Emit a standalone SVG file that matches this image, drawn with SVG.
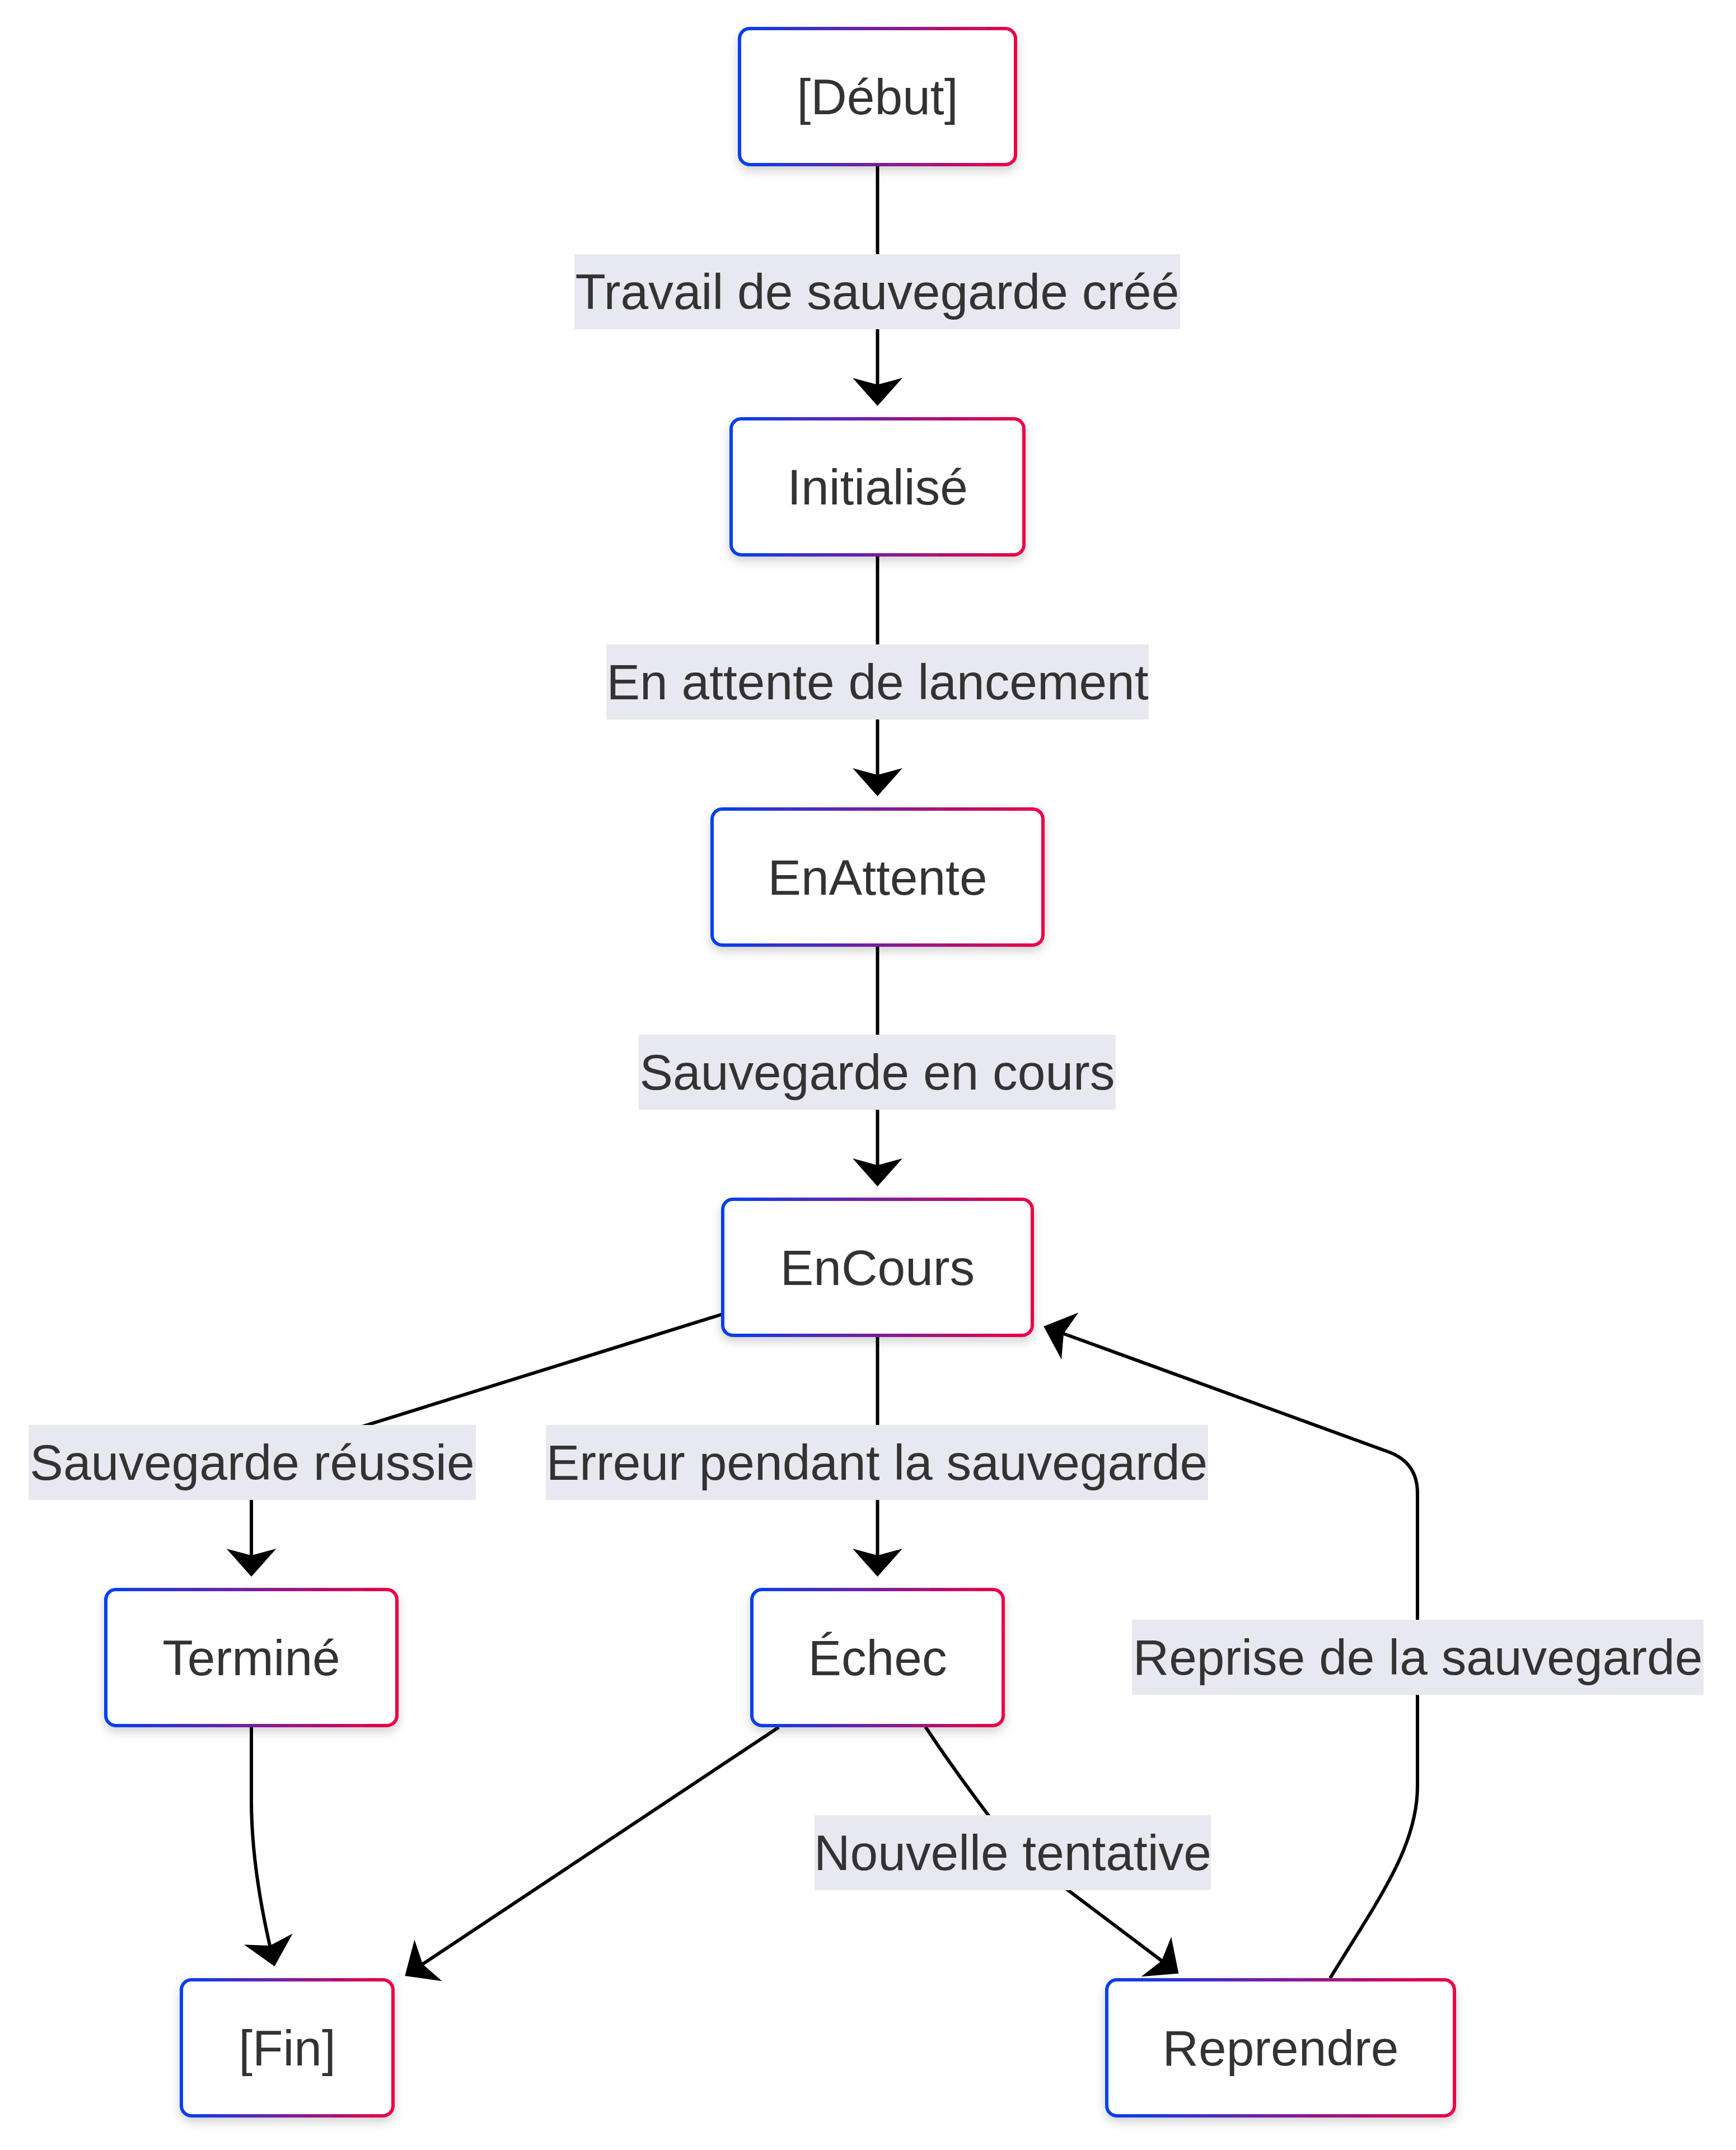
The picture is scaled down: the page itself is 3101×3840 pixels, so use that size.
<svg xmlns="http://www.w3.org/2000/svg" width="3101" height="3840" viewBox="0 0 3101 3840">
<style>
.node rect{fill:#ffffff;stroke:url(#grad);stroke-width:6;filter:url(#shadow)}
.node text,.label text{font-family:"Liberation Sans",Arial,sans-serif;font-size:89.3px;fill:#333333;text-anchor:middle}
.label rect{fill:#e8e8f0}
.edge{fill:none;stroke:#000000;stroke-width:6;marker-end:url(#arrow)}
</style>
<defs>
<linearGradient id="grad" x1="0" y1="0" x2="1" y2="0">
<stop offset="0" stop-color="#0040ee"/>
<stop offset="0.5" stop-color="#7a1e9c"/>
<stop offset="1" stop-color="#ee0044"/>
</linearGradient>
<filter id="shadow" x="-20%" y="-20%" width="140%" height="160%">
<feDropShadow dx="0" dy="8" stdDeviation="9" flood-color="#000000" flood-opacity="0.18"/>
</filter>
<marker id="arrow" viewBox="0 0 50 89" refX="12" refY="44.5" markerWidth="50" markerHeight="89" markerUnits="userSpaceOnUse" orient="auto">
<path d="M0,0 L50,44.5 L0,89 L12,44.5 Z" fill="#000000"/>
</marker>
</defs>
<rect width="3101" height="3840" fill="#ffffff"/>
<g id="connectors">
<path class="edge" d="M1567.5,297 L1567.5,687"/>
<path class="edge" d="M1567.5,994 L1567.5,1384"/>
<path class="edge" d="M1567.5,1691 L1567.5,2081"/>
<path class="edge" d="M1567.5,2388 L1567.5,2778"/>
<path class="edge" d="M1291,2347 L656,2545 Q449,2605 449,2650 L449,2778"/>
<path class="edge" d="M449,3085 L449,3215 Q449,3330 482,3475"/>
<path class="edge" d="M1391,3085 L755,3508"/>
<path class="edge" d="M1653,3084 Q1700,3155 1764,3240 Q1800,3290 1860,3340 L2075,3502"/>
<path class="edge" d="M2376,3533 C2460,3395 2532,3300 2532,3190 L2532,2667 Q2532,2612 2480,2593 L1900,2382"/>
</g>
<g id="edge-labels">
<g class="label" id="label-cree"><rect x="1026" y="454" width="1082" height="134"/><text x="1567" y="552">Travail de sauvegarde créé</text></g>
<g class="label" id="label-attente"><rect x="1083" y="1151" width="969" height="134"/><text x="1567.5" y="1249">En attente de lancement</text></g>
<g class="label" id="label-cours"><rect x="1141" y="1848" width="852" height="134"/><text x="1567" y="1946">Sauvegarde en cours</text></g>
<g class="label" id="label-reussie"><rect x="51" y="2545" width="799" height="134"/><text x="450.5" y="2643">Sauvegarde réussie</text></g>
<g class="label" id="label-erreur"><rect x="975" y="2545" width="1183" height="134"/><text x="1566.5" y="2643">Erreur pendant la sauvegarde</text></g>
<g class="label" id="label-reprise"><rect x="2022" y="2893" width="1021" height="134"/><text x="2532.5" y="2991">Reprise de la sauvegarde</text></g>
<g class="label" id="label-tentative"><rect x="1455" y="3242" width="708" height="134"/><text x="1809" y="3340">Nouvelle tentative</text></g>
</g>
<g class="node" id="node-debut"><rect x="1321" y="51" width="493" height="243" rx="18"/><text x="1567.5" y="204">[Début]</text></g>
<g class="node" id="node-initialise"><rect x="1306" y="748" width="523" height="243" rx="18"/><text x="1567.5" y="901">Initialisé</text></g>
<g class="node" id="node-enattente"><rect x="1272" y="1445" width="591" height="243" rx="18"/><text x="1567.5" y="1598">EnAttente</text></g>
<g class="node" id="node-encours"><rect x="1291" y="2142" width="553" height="243" rx="18"/><text x="1567.5" y="2295">EnCours</text></g>
<g class="node" id="node-termine"><rect x="189" y="2839" width="520" height="243" rx="18"/><text x="449" y="2992">Terminé</text></g>
<g class="node" id="node-echec"><rect x="1343" y="2839" width="449" height="243" rx="18"/><text x="1567.5" y="2992">Échec</text></g>
<g class="node" id="node-fin"><rect x="324" y="3536" width="378" height="243" rx="18"/><text x="513" y="3689">[Fin]</text></g>
<g class="node" id="node-reprendre"><rect x="1977" y="3536" width="621" height="243" rx="18"/><text x="2287.5" y="3689">Reprendre</text></g>
</svg>
